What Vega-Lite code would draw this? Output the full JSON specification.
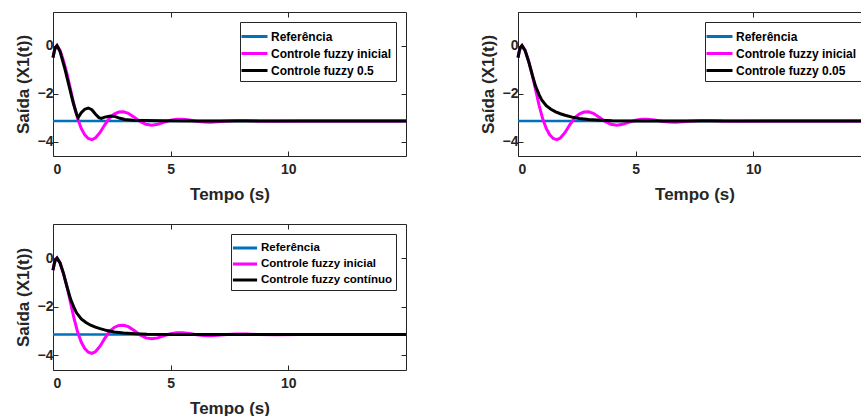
{
  "$schema": "https://vega.github.io/schema/vega-lite/v6.json",
  "padding": {"left": 14, "top": 11, "right": 0, "bottom": 0},
  "background": "white",
  "config": {
    "view": {"stroke": null},
    "font": "Liberation Sans",
    "axis": {
      "grid": false,
      "labelFont": "Liberation Sans",
      "labelFontWeight": "bold",
      "labelFontSize": 14,
      "labelColor": "#262626",
      "titleFont": "Liberation Sans",
      "titleFontWeight": "bold",
      "titleFontSize": 17,
      "titleColor": "#262626",
      "domainColor": "#262626",
      "tickColor": "#262626",
      "tickSize": -5,
      "domainWidth": 1
    },
    "legend": {
      "orient": "top-right",
      "offset": 10,
      "strokeColor": "#262626",
      "fillColor": "white",
      "padding": 4,
      "symbolType": "M-1.5,0H1.5",
      "symbolStrokeWidth": 3,
      "symbolSize": 300,
      "labelFont": "Liberation Sans",
      "labelFontWeight": "bold",
      "labelFontSize": 12,
      "labelColor": "black",
      "labelOffset": 6,
      "rowPadding": 0,
      "title": null
    }
  },
  "datasets": {
    "ref": [
      {"s": "Referência", "t": 0, "y": -3.14},
      {"s": "Referência", "t": 15, "y": -3.14}
    ],
    "ini": [
      {"s": "Controle fuzzy inicial", "t": 0, "y": -0.5},
      {"s": "Controle fuzzy inicial", "t": 0.05, "y": -0.25},
      {"s": "Controle fuzzy inicial", "t": 0.1, "y": -0.08},
      {"s": "Controle fuzzy inicial", "t": 0.17, "y": 0.0},
      {"s": "Controle fuzzy inicial", "t": 0.3, "y": -0.2},
      {"s": "Controle fuzzy inicial", "t": 0.45, "y": -0.65},
      {"s": "Controle fuzzy inicial", "t": 0.6, "y": -1.2},
      {"s": "Controle fuzzy inicial", "t": 0.75, "y": -1.85},
      {"s": "Controle fuzzy inicial", "t": 0.9, "y": -2.5},
      {"s": "Controle fuzzy inicial", "t": 1.05, "y": -3.05},
      {"s": "Controle fuzzy inicial", "t": 1.2, "y": -3.45},
      {"s": "Controle fuzzy inicial", "t": 1.35, "y": -3.72},
      {"s": "Controle fuzzy inicial", "t": 1.5, "y": -3.87},
      {"s": "Controle fuzzy inicial", "t": 1.65, "y": -3.92},
      {"s": "Controle fuzzy inicial", "t": 1.8, "y": -3.85},
      {"s": "Controle fuzzy inicial", "t": 2.0, "y": -3.62},
      {"s": "Controle fuzzy inicial", "t": 2.2, "y": -3.3},
      {"s": "Controle fuzzy inicial", "t": 2.4, "y": -3.02},
      {"s": "Controle fuzzy inicial", "t": 2.6, "y": -2.85},
      {"s": "Controle fuzzy inicial", "t": 2.8, "y": -2.77},
      {"s": "Controle fuzzy inicial", "t": 3.0, "y": -2.76},
      {"s": "Controle fuzzy inicial", "t": 3.2, "y": -2.82},
      {"s": "Controle fuzzy inicial", "t": 3.45, "y": -2.98},
      {"s": "Controle fuzzy inicial", "t": 3.7, "y": -3.16},
      {"s": "Controle fuzzy inicial", "t": 3.95, "y": -3.28},
      {"s": "Controle fuzzy inicial", "t": 4.2, "y": -3.32},
      {"s": "Controle fuzzy inicial", "t": 4.45, "y": -3.28},
      {"s": "Controle fuzzy inicial", "t": 4.7, "y": -3.2},
      {"s": "Controle fuzzy inicial", "t": 5.0, "y": -3.11},
      {"s": "Controle fuzzy inicial", "t": 5.25, "y": -3.07},
      {"s": "Controle fuzzy inicial", "t": 5.5, "y": -3.07},
      {"s": "Controle fuzzy inicial", "t": 5.8, "y": -3.1},
      {"s": "Controle fuzzy inicial", "t": 6.1, "y": -3.15},
      {"s": "Controle fuzzy inicial", "t": 6.4, "y": -3.18},
      {"s": "Controle fuzzy inicial", "t": 6.7, "y": -3.19},
      {"s": "Controle fuzzy inicial", "t": 7.0, "y": -3.17},
      {"s": "Controle fuzzy inicial", "t": 7.4, "y": -3.14},
      {"s": "Controle fuzzy inicial", "t": 7.8, "y": -3.12},
      {"s": "Controle fuzzy inicial", "t": 8.2, "y": -3.12},
      {"s": "Controle fuzzy inicial", "t": 8.7, "y": -3.14},
      {"s": "Controle fuzzy inicial", "t": 9.5, "y": -3.15},
      {"s": "Controle fuzzy inicial", "t": 10.5, "y": -3.14},
      {"s": "Controle fuzzy inicial", "t": 15, "y": -3.14}
    ],
    "c05": [
      {"s": "Controle fuzzy 0.5", "t": 0, "y": -0.5},
      {"s": "Controle fuzzy 0.5", "t": 0.05, "y": -0.25},
      {"s": "Controle fuzzy 0.5", "t": 0.1, "y": -0.08},
      {"s": "Controle fuzzy 0.5", "t": 0.17, "y": 0.0},
      {"s": "Controle fuzzy 0.5", "t": 0.3, "y": -0.25},
      {"s": "Controle fuzzy 0.5", "t": 0.5, "y": -0.95},
      {"s": "Controle fuzzy 0.5", "t": 0.7, "y": -1.75},
      {"s": "Controle fuzzy 0.5", "t": 0.85, "y": -2.35},
      {"s": "Controle fuzzy 0.5", "t": 1.0, "y": -2.85},
      {"s": "Controle fuzzy 0.5", "t": 1.07, "y": -3.0},
      {"s": "Controle fuzzy 0.5", "t": 1.2, "y": -2.8},
      {"s": "Controle fuzzy 0.5", "t": 1.35, "y": -2.65},
      {"s": "Controle fuzzy 0.5", "t": 1.5, "y": -2.6},
      {"s": "Controle fuzzy 0.5", "t": 1.65, "y": -2.67},
      {"s": "Controle fuzzy 0.5", "t": 1.8, "y": -2.85},
      {"s": "Controle fuzzy 0.5", "t": 1.95, "y": -3.0},
      {"s": "Controle fuzzy 0.5", "t": 2.05, "y": -3.03},
      {"s": "Controle fuzzy 0.5", "t": 2.2, "y": -2.98},
      {"s": "Controle fuzzy 0.5", "t": 2.45, "y": -2.93},
      {"s": "Controle fuzzy 0.5", "t": 2.65, "y": -2.96},
      {"s": "Controle fuzzy 0.5", "t": 2.85, "y": -3.03},
      {"s": "Controle fuzzy 0.5", "t": 3.05, "y": -3.08},
      {"s": "Controle fuzzy 0.5", "t": 3.4, "y": -3.11},
      {"s": "Controle fuzzy 0.5", "t": 3.9, "y": -3.12},
      {"s": "Controle fuzzy 0.5", "t": 4.6, "y": -3.13},
      {"s": "Controle fuzzy 0.5", "t": 6, "y": -3.14},
      {"s": "Controle fuzzy 0.5", "t": 15, "y": -3.14}
    ],
    "c005": [
      {"s": "Controle fuzzy 0.05", "t": 0, "y": -0.5},
      {"s": "Controle fuzzy 0.05", "t": 0.05, "y": -0.25},
      {"s": "Controle fuzzy 0.05", "t": 0.1, "y": -0.08},
      {"s": "Controle fuzzy 0.05", "t": 0.17, "y": 0.0},
      {"s": "Controle fuzzy 0.05", "t": 0.3, "y": -0.2},
      {"s": "Controle fuzzy 0.05", "t": 0.45, "y": -0.65},
      {"s": "Controle fuzzy 0.05", "t": 0.6, "y": -1.2},
      {"s": "Controle fuzzy 0.05", "t": 0.75, "y": -1.7},
      {"s": "Controle fuzzy 0.05", "t": 0.9, "y": -2.05},
      {"s": "Controle fuzzy 0.05", "t": 1.0, "y": -2.25},
      {"s": "Controle fuzzy 0.05", "t": 1.2, "y": -2.5},
      {"s": "Controle fuzzy 0.05", "t": 1.4, "y": -2.65},
      {"s": "Controle fuzzy 0.05", "t": 1.6, "y": -2.76},
      {"s": "Controle fuzzy 0.05", "t": 1.8, "y": -2.84},
      {"s": "Controle fuzzy 0.05", "t": 2.0, "y": -2.9},
      {"s": "Controle fuzzy 0.05", "t": 2.3, "y": -2.98},
      {"s": "Controle fuzzy 0.05", "t": 2.6, "y": -3.04},
      {"s": "Controle fuzzy 0.05", "t": 3.0, "y": -3.08},
      {"s": "Controle fuzzy 0.05", "t": 3.5, "y": -3.11},
      {"s": "Controle fuzzy 0.05", "t": 4.0, "y": -3.13},
      {"s": "Controle fuzzy 0.05", "t": 5.0, "y": -3.14},
      {"s": "Controle fuzzy 0.05", "t": 15, "y": -3.14}
    ],
    "ccont": [
      {"s": "Controle fuzzy contínuo", "t": 0, "y": -0.5},
      {"s": "Controle fuzzy contínuo", "t": 0.05, "y": -0.25},
      {"s": "Controle fuzzy contínuo", "t": 0.1, "y": -0.08},
      {"s": "Controle fuzzy contínuo", "t": 0.17, "y": 0.0},
      {"s": "Controle fuzzy contínuo", "t": 0.3, "y": -0.2},
      {"s": "Controle fuzzy contínuo", "t": 0.45, "y": -0.65},
      {"s": "Controle fuzzy contínuo", "t": 0.6, "y": -1.2},
      {"s": "Controle fuzzy contínuo", "t": 0.75, "y": -1.7},
      {"s": "Controle fuzzy contínuo", "t": 0.9, "y": -2.05},
      {"s": "Controle fuzzy contínuo", "t": 1.0, "y": -2.25},
      {"s": "Controle fuzzy contínuo", "t": 1.2, "y": -2.5},
      {"s": "Controle fuzzy contínuo", "t": 1.4, "y": -2.65},
      {"s": "Controle fuzzy contínuo", "t": 1.6, "y": -2.76},
      {"s": "Controle fuzzy contínuo", "t": 1.8, "y": -2.84},
      {"s": "Controle fuzzy contínuo", "t": 2.0, "y": -2.9},
      {"s": "Controle fuzzy contínuo", "t": 2.3, "y": -2.98},
      {"s": "Controle fuzzy contínuo", "t": 2.6, "y": -3.04},
      {"s": "Controle fuzzy contínuo", "t": 3.0, "y": -3.08},
      {"s": "Controle fuzzy contínuo", "t": 3.5, "y": -3.11},
      {"s": "Controle fuzzy contínuo", "t": 4.0, "y": -3.13},
      {"s": "Controle fuzzy contínuo", "t": 5.0, "y": -3.14},
      {"s": "Controle fuzzy contínuo", "t": 15, "y": -3.14}
    ]
  },
  "resolve": {"scale": {"color": "independent"}, "legend": {"color": "independent"}},
  "spacing": 21,
  "vconcat": [
    {
      "spacing": 67,
      "resolve": {"scale": {"color": "independent"}, "legend": {"color": "independent"}},
      "hconcat": [
        {
          "width": 353, "height": 144,
          "resolve": {"axis": {"x": "independent", "y": "independent"}},
          "layer": [
            {
              "data": {"name": "ref"},
              "mark": {"type": "line", "strokeWidth": 2.5},
              "encoding": {
                "x": {"field": "t", "type": "quantitative", "scale": {"domain": [0, 15], "nice": false}, "axis": {"orient": "bottom", "title": "Tempo (s)", "values": [0, 5, 10], "labelPadding": 11, "titlePadding": 10}},
                "y": {"field": "y", "type": "quantitative", "scale": {"domain": [-4.6, 1.4], "nice": false}, "axis": {"orient": "left", "title": "Saída (X1(t))", "values": [-4, -2, 0], "labelPadding": 5, "titlePadding": 5}},
                "color": {"field": "s", "type": "nominal", "scale": {"domain": ["Referência", "Controle fuzzy inicial", "Controle fuzzy 0.5"], "range": ["#0072BD", "#FF00FF", "#000000"]}}
              }
            },
            {
              "data": {"name": "ini"},
              "mark": {"type": "line", "strokeWidth": 3},
              "encoding": {
                "x": {"field": "t", "type": "quantitative", "axis": {"orient": "top", "title": null, "labels": false, "values": [0, 5, 10]}},
                "y": {"field": "y", "type": "quantitative", "axis": {"orient": "right", "title": null, "labels": false, "values": [-4, -2, 0]}},
                "color": {"field": "s", "type": "nominal"}
              }
            },
            {
              "data": {"name": "c05"},
              "mark": {"type": "line", "strokeWidth": 3},
              "encoding": {
                "x": {"field": "t", "type": "quantitative", "axis": null},
                "y": {"field": "y", "type": "quantitative", "axis": null},
                "color": {"field": "s", "type": "nominal"}
              }
            }
          ]
        },
        {
          "width": 353, "height": 144,
          "resolve": {"axis": {"x": "independent", "y": "independent"}},
          "layer": [
            {
              "data": {"name": "ref"},
              "mark": {"type": "line", "strokeWidth": 2.5},
              "encoding": {
                "x": {"field": "t", "type": "quantitative", "scale": {"domain": [0, 15], "nice": false}, "axis": {"orient": "bottom", "title": "Tempo (s)", "values": [0, 5, 10], "labelPadding": 11, "titlePadding": 10}},
                "y": {"field": "y", "type": "quantitative", "scale": {"domain": [-4.6, 1.4], "nice": false}, "axis": {"orient": "left", "title": "Saída (X1(t))", "values": [-4, -2, 0], "labelPadding": 5, "titlePadding": 5}},
                "color": {"field": "s", "type": "nominal", "scale": {"domain": ["Referência", "Controle fuzzy inicial", "Controle fuzzy 0.05"], "range": ["#0072BD", "#FF00FF", "#000000"]}}
              }
            },
            {
              "data": {"name": "ini"},
              "mark": {"type": "line", "strokeWidth": 3},
              "encoding": {
                "x": {"field": "t", "type": "quantitative", "axis": {"orient": "top", "title": null, "labels": false, "values": [0, 5, 10]}},
                "y": {"field": "y", "type": "quantitative", "axis": {"orient": "right", "title": null, "labels": false, "values": [-4, -2, 0]}},
                "color": {"field": "s", "type": "nominal"}
              }
            },
            {
              "data": {"name": "c005"},
              "mark": {"type": "line", "strokeWidth": 3},
              "encoding": {
                "x": {"field": "t", "type": "quantitative", "axis": null},
                "y": {"field": "y", "type": "quantitative", "axis": null},
                "color": {"field": "s", "type": "nominal"}
              }
            }
          ]
        }
      ]
    },
    {
      "width": 353, "height": 146,
      "resolve": {"axis": {"x": "independent", "y": "independent"}},
      "layer": [
        {
          "data": {"name": "ref"},
          "mark": {"type": "line", "strokeWidth": 2.5},
          "encoding": {
            "x": {"field": "t", "type": "quantitative", "scale": {"domain": [0, 15], "nice": false}, "axis": {"orient": "bottom", "title": "Tempo (s)", "values": [0, 5, 10], "labelPadding": 11, "titlePadding": 10}},
            "y": {"field": "y", "type": "quantitative", "scale": {"domain": [-4.6, 1.4], "nice": false}, "axis": {"orient": "left", "title": "Saída (X1(t))", "values": [-4, -2, 0], "labelPadding": 5, "titlePadding": 5}},
            "color": {"field": "s", "type": "nominal", "scale": {"domain": ["Referência", "Controle fuzzy inicial", "Controle fuzzy contínuo"], "range": ["#0072BD", "#FF00FF", "#000000"]}, "legend": {"labelFontSize": 11.5, "symbolSize": 260}}
          }
        },
        {
          "data": {"name": "ini"},
          "mark": {"type": "line", "strokeWidth": 3},
          "encoding": {
            "x": {"field": "t", "type": "quantitative", "axis": {"orient": "top", "title": null, "labels": false, "values": [0, 5, 10]}},
            "y": {"field": "y", "type": "quantitative", "axis": {"orient": "right", "title": null, "labels": false, "values": [-4, -2, 0]}},
            "color": {"field": "s", "type": "nominal"}
          }
        },
        {
          "data": {"name": "ccont"},
          "mark": {"type": "line", "strokeWidth": 3},
          "encoding": {
            "x": {"field": "t", "type": "quantitative", "axis": null},
            "y": {"field": "y", "type": "quantitative", "axis": null},
            "color": {"field": "s", "type": "nominal"}
          }
        }
      ]
    }
  ]
}
